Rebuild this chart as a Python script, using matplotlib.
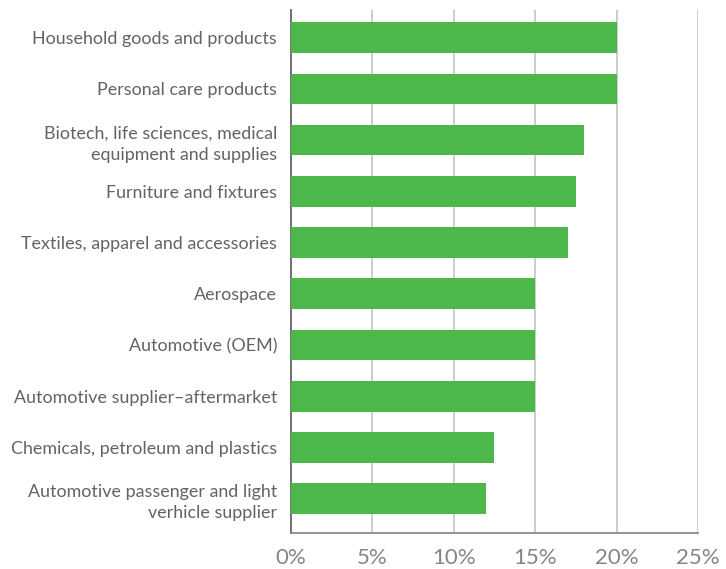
import matplotlib
matplotlib.use("Agg")
import matplotlib.pyplot as plt
from matplotlib.ticker import FuncFormatter

# industry categories, top to bottom
industries = [
    "Household goods and products",
    "Personal care products",
    "Biotech, life sciences, medical\nequipment and supplies",
    "Furniture and fixtures",
    "Textiles, apparel and accessories",
    "Aerospace",
    "Automotive (OEM)",
    "Automotive supplier\u2013aftermarket",
    "Chemicals, petroleum and plastics",
    "Automotive passenger and light\nverhicle supplier",
]
shares = [20, 20, 18, 17.5, 17, 15, 15, 15, 12.5, 12]
xticks = [0, 5, 10, 15, 20, 25]

plt.rcParams['font.family'] = ['Lato', 'DejaVu Sans']
text_col = '#636363'

fig = plt.figure(figsize=(7.26, 5.69), dpi=100)
ax = fig.add_axes([0.4008, 0.0633, 0.5606, 0.9191])

ypos = list(range(len(industries)))
ax.barh(ypos, shares, height=0.6, color='#4cb84a', zorder=3)

ax.set_xlim(0, 25)
ax.set_ylim(9.67, -0.54)
ax.set_xticks(xticks)
ax.xaxis.set_major_formatter(FuncFormatter(lambda v, p: f"{v:.0f}%"))
ax.set_yticks(ypos)
ax.set_yticklabels(industries, fontsize=12.9, color=text_col,
                   linespacing=1.4)
for lbl in ax.get_xticklabels():
    lbl.set_fontsize(16)
    lbl.set_color('#858585')

ax.tick_params(axis='y', length=0, pad=10)
ax.tick_params(axis='x', length=0, pad=11)
ax.grid(axis='x', color='#c8c8c8', linewidth=1.3, zorder=0)

for side in ['top', 'right']:
    ax.spines[side].set_visible(False)
ax.spines['left'].set_color('#666666')
ax.spines['left'].set_linewidth(1.3)
ax.spines['bottom'].set_color('#8a8a8a')
ax.spines['bottom'].set_linewidth(1.3)

fig.savefig('out.png', dpi=100)
